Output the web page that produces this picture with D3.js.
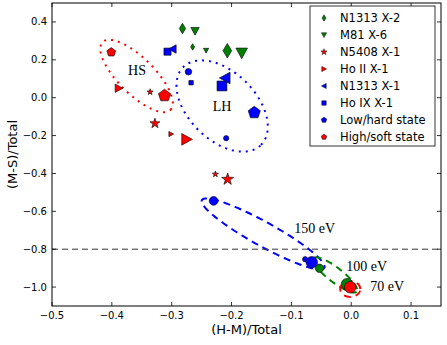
<!DOCTYPE html>
<html>
<head>
<meta charset="utf-8">
<script src="https://cdn.jsdelivr.net/npm/d3@7"></script>
<style>
  body { margin: 0; background: #fff; }
  text { font-family: "DejaVu Sans", sans-serif; }
</style>
</head>
<body>
<svg id="chart" width="447" height="345"></svg>
<script>
// ---- data ----
const xTicks = [-0.5, -0.4, -0.3, -0.2, -0.1, 0.0, 0.1];
const yTicks = [0.4, 0.2, 0.0, -0.2, -0.4, -0.6, -0.8, -1.0];

// each point: [(H-M)/Total, (M-S)/Total, marker level]
const n1313x2 = [[-0.282, 0.365, 2], [-0.265, 0.268, 1], [-0.207, 0.248, 3]];
const m81x6 = [[-0.261, 0.352, 2], [-0.2425, 0.249, 1], [-0.183, 0.236, 3]];
const n5408x1 = [[-0.336, 0.030, 1], [-0.328, -0.136, 2], [-0.227, -0.404, 1], [-0.2065, -0.431, 2.5]];
const hoIIx1 = [[-0.3885, 0.050, 2], [-0.301, -0.192, 1], [-0.275, -0.220, 3]];
const n1313x1 = [[-0.2985, 0.257, 2], [-0.2107, 0.104, 3]];
const hoIXx1 = [[-0.307, 0.243, 2], [-0.2676, 0.079, 1], [-0.216, 0.062, 3]];
const lowHard = [[-0.162, -0.079, 3]];
const highSoft = [[-0.401, 0.240, 2], [-0.312, 0.011, 3]];
const lowHardDisk = [[-0.272, 0.137, 1.4], [-0.209, -0.214, 1], [-0.230, -0.545, 2.1], [-0.077, -0.853, 1], [-0.066, -0.869, 3]];
const model100 = [[-0.053, -0.901, 2], [-0.007, -0.985, 3]];
const model70 = [[-0.0017, -1.001, 3]];

// regions: [cx, cy, major dx, major dy, minor dx, minor dy]
const regionHS = [-0.3587, 0.1146, 0.0567, -0.179, 0.0213, 0.0671];
const regionLH = [-0.2157, -0.0438, 0.0650, -0.2054, 0.0400, 0.1260];
const region150 = [-0.1472, -0.7196, 0.1023, -0.179, -0.0097, -0.0554];
const region100 = [-0.0268, -0.936, 0.0360, -0.0880, -0.0075, -0.0300];
const region70 = [-0.0017, -1.010, 0.0167, 0, 0, 0.042];

const thresholdY = -0.8;

const labels = [
  ["HS", -0.3579, 0.120, "middle"],
  ["LH", -0.2157, -0.070, "middle"],
  ["150 eV", -0.0953, -0.714, "start"],
  ["100 eV", -0.0084, -0.915, "start"],
  ["70 eV", 0.0318, -1.021, "start"]
];

const legendItems = [
  ["N1313 X-2", "thinDiamond", "#008000"],
  ["M81 X-6", "triDown", "#008000"],
  ["N5408 X-1", "star", "#ff0000"],
  ["Ho II X-1", "triRight", "#ff0000"],
  ["N1313 X-1", "triLeft", "#0000ff"],
  ["Ho IX X-1", "square", "#0000ff"],
  ["Low/hard state", "pentagon", "#0000ff"],
  ["High/soft state", "pentagon", "#ff0000"]
];

// ---- layout ----
const margin = { left: 52, right: 6, top: 3, bottom: 39 };
const W = 447, H = 345;
const svg = d3.select("#chart");

const x = d3.scaleLinear().domain([-0.5, 0.15]).range([margin.left, W - margin.right]);
const y = d3.scaleLinear().domain([-1.1, 0.5]).range([H - margin.bottom, margin.top]);
const size = d3.scaleLinear().domain([1, 3]).range([2.6, 5.8]);

function markerPath(shape, r) {
  if (shape === "thinDiamond") return `M0,${-r * 1.25}L${r * 0.75},0L0,${r * 1.25}L${-r * 0.75},0Z`;
  if (shape === "triDown") return `M${-r},${-r * 0.85}L${r},${-r * 0.85}L0,${r}Z`;
  if (shape === "triRight") return `M${r},0L${-r * 0.85},${-r}L${-r * 0.85},${r}Z`;
  if (shape === "triLeft") return `M${-r},0L${r * 0.85},${-r}L${r * 0.85},${r}Z`;
  if (shape === "square") return `M${-r * 0.85},${-r * 0.85}h${r * 1.7}v${r * 1.7}h${-r * 1.7}Z`;
  if (shape === "circle") return d3.arc()({ innerRadius: 0, outerRadius: r, startAngle: 0, endAngle: 2 * Math.PI });
  const n = 5, pts = [];
  for (let i = 0; i < n * (shape === "star" ? 2 : 1); i++) {
    const step = shape === "star" ? Math.PI / n : 2 * Math.PI / n;
    const rr = shape === "star" ? (i % 2 ? r * 0.5 : r * 1.25) : r * 1.1;
    const a = -Math.PI / 2 + i * step;
    pts.push([rr * Math.cos(a), rr * Math.sin(a)]);
  }
  return "M" + pts.join("L") + "Z";
}

// regions
const line = d3.line().x(d => x(d[0])).y(d => y(d[1])).curve(d3.curveLinearClosed);
function ellipse(e) {
  return d3.range(0, 360, 2).map(deg => {
    const t = deg * Math.PI / 180;
    return [e[0] + e[2] * Math.cos(t) + e[4] * Math.sin(t), e[1] + e[3] * Math.cos(t) + e[5] * Math.sin(t)];
  });
}
const regions = [
  [regionHS, "#ff0000", "2,5"],
  [regionLH, "#0000ff", "2,5"],
  [region150, "#0000ff", "7,5"],
  [region100, "#008000", "7,5"],
  [region70, "#ff0000", "7,5"]
];
svg.append("g").selectAll("path")
  .data(regions)
  .enter().append("path")
  .attr("d", d => line(ellipse(d[0])))
  .attr("fill", "none")
  .attr("stroke", d => d[1])
  .attr("stroke-width", 2)
  .attr("stroke-dasharray", d => d[2]);

// threshold
svg.append("line")
  .attr("x1", x(-0.5)).attr("x2", x(0.15))
  .attr("y1", y(thresholdY)).attr("y2", y(thresholdY))
  .attr("stroke", "#333").attr("stroke-width", 1)
  .attr("stroke-dasharray", "6,4");

// points
const series = [
  [lowHardDisk, "circle", "#0000ff"],
  [model100, "circle", "#008000"],
  [model70, "circle", "#ff0000"],
  [highSoft, "pentagon", "#ff0000"],
  [lowHard, "pentagon", "#0000ff"],
  [n5408x1, "star", "#ff0000"],
  [hoIIx1, "triRight", "#ff0000"],
  [hoIXx1, "square", "#0000ff"],
  [n1313x1, "triLeft", "#0000ff"],
  [m81x6, "triDown", "#008000"],
  [n1313x2, "thinDiamond", "#008000"]
];
series.forEach(([pts, shape, color]) => {
  svg.append("g").selectAll("path")
    .data(pts)
    .enter().append("path")
    .attr("transform", d => `translate(${x(d[0])},${y(d[1])})`)
    .attr("d", d => markerPath(shape, size(d[2])))
    .attr("fill", color)
    .attr("stroke", "#000")
    .attr("stroke-width", 0.6);
});

// annotations
svg.append("g").selectAll("text")
  .data(labels)
  .enter().append("text")
  .attr("x", d => x(d[1]))
  .attr("y", d => y(d[2]))
  .attr("text-anchor", d => d[3])
  .style("font-family", "'Liberation Serif', 'Times New Roman', serif")
  .style("font-size", "14px")
  .text(d => d[0]);

// frame and inward ticks
const x0 = x(-0.5), x1 = x(0.15), y0 = y(-1.1), y1 = y(0.5);
svg.append("rect")
  .attr("x", x0).attr("y", y1).attr("width", x1 - x0).attr("height", y0 - y1)
  .attr("fill", "none").attr("stroke", "#000").attr("stroke-width", 1);

const tickLen = 4;
const ticks = svg.append("g").attr("stroke", "#000").attr("stroke-width", 0.8);
xTicks.forEach(v => {
  ticks.append("line").attr("x1", x(v)).attr("x2", x(v)).attr("y1", y0).attr("y2", y0 - tickLen);
  ticks.append("line").attr("x1", x(v)).attr("x2", x(v)).attr("y1", y1).attr("y2", y1 + tickLen);
});
yTicks.forEach(v => {
  ticks.append("line").attr("y1", y(v)).attr("y2", y(v)).attr("x1", x0).attr("x2", x0 + tickLen);
  ticks.append("line").attr("y1", y(v)).attr("y2", y(v)).attr("x1", x1).attr("x2", x1 - tickLen);
});

const fmt = v => d3.format(".1f")(v).replace("-", "\u2212");
svg.append("g").selectAll("text")
  .data(xTicks)
  .enter().append("text")
  .attr("x", d => x(d)).attr("y", y0 + 13)
  .attr("text-anchor", "middle")
  .style("font-size", "10px")
  .text(fmt);
svg.append("g").selectAll("text")
  .data(yTicks)
  .enter().append("text")
  .attr("x", x0 - 5).attr("y", d => y(d) + 3.5)
  .attr("text-anchor", "end")
  .style("font-size", "10px")
  .text(fmt);

svg.append("text")
  .attr("x", (x0 + x1) / 2).attr("y", 334)
  .attr("text-anchor", "middle")
  .style("font-size", "13px")
  .text("(H-M)/Total");
svg.append("text")
  .attr("transform", `translate(17,${(y0 + y1) / 2}) rotate(-90)`)
  .attr("text-anchor", "middle")
  .style("font-size", "13px")
  .text("(M-S)/Total");

// legend
const lg = svg.append("g").attr("transform", "translate(310,6)");
lg.append("rect")
  .attr("width", 125).attr("height", 140)
  .attr("fill", "#fff").attr("stroke", "#000").attr("stroke-width", 0.8);
const item = lg.selectAll(".legend-item")
  .data(legendItems)
  .enter().append("g")
  .attr("class", "legend-item")
  .attr("transform", (d, i) => `translate(0,${12 + i * 17})`);
item.append("path")
  .attr("transform", "translate(14,0)")
  .attr("d", d => markerPath(d[1], 2.6))
  .attr("fill", d => d[2])
  .attr("stroke", "#000")
  .attr("stroke-width", 0.5);
item.append("text")
  .attr("x", 30).attr("y", 4)
  .style("font-size", "11.5px")
  .text(d => d[0]);
</script>
</body>
</html>
